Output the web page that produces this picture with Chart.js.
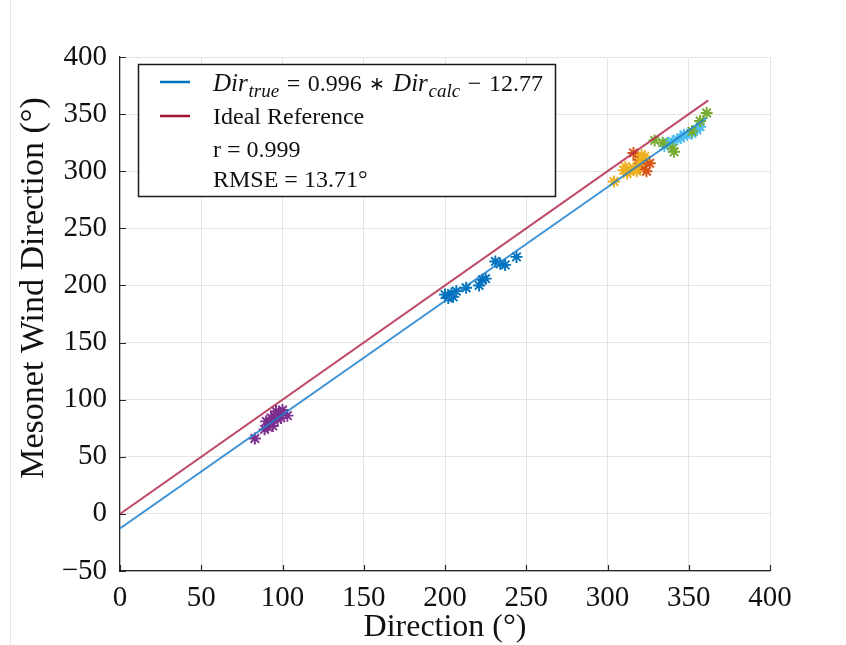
<!DOCTYPE html>
<html>
<head>
<meta charset="utf-8">
<script src="https://cdn.jsdelivr.net/npm/chart.js@4.4.1/dist/chart.umd.min.js"></script>
<style>
  html, body { margin: 0; padding: 0; background: #ffffff; }
  #wrap { width: 846px; height: 645px; position: relative; }
</style>
</head>
<body>
<div id="wrap"><canvas id="c" width="846" height="645"></canvas></div>
<script>
// Calculated vs. Mesonet wind direction, grouped by case
const purpleX = [83, 89, 90, 91, 92, 93, 94, 95, 96, 97, 98, 99, 100, 103];
const purpleY = [66, 74, 81, 76, 80, 84, 77, 86, 90, 83, 88, 84, 91, 86];

const blueX = [200, 202, 204, 205, 207, 213, 221, 223, 225, 231, 234, 237, 244];
const blueY = [192, 189, 193, 190, 195, 198, 200, 205, 206, 221, 219, 218, 225];

const yellowX = [304, 310, 311, 312, 314, 316, 318, 320, 321, 323];
const yellowY = [291, 301, 304, 298, 300, 303, 300, 308, 314, 313];

const orangeX = [316, 319, 320, 322, 324, 326];
const orangeY = [316, 310, 303, 305, 300, 307];

const greenX = [329, 334, 340, 341, 352, 357, 361];
const greenY = [327, 325, 320, 317, 335, 344, 351];

const cyanX = [335, 337, 340, 343, 345, 347, 349, 352, 355, 357];
const cyanY = [322, 325, 326, 328, 329, 332, 332, 333, 336, 339];

// Regression and ideal reference lines
const fitSlope = 0.996;
const fitIntercept = -12.77;
const lineXRange = [0, 361];
const idealRange = [0, 362];

// Axis ticks
const xTicks = [0, 50, 100, 150, 200, 250, 300, 350, 400];
const yTicks = [-50, 0, 50, 100, 150, 200, 250, 300, 350, 400];

// Legend text
const legendFit = { slope: '0.996', intercept: '12.77' };
const legendIdeal = 'Ideal Reference';
const legendR = 'r = 0.999';
const legendRmse = 'RMSE = 13.71°';

const SERIF = '"Liberation Serif", "Times New Roman", serif';

const pts = (xs, ys) => xs.map((x, i) => ({ x: x, y: ys[i] }));

function scatterSet(xs, ys, color) {
  return {
    type: 'scatter',
    data: pts(xs, ys),
    pointStyle: 'star',
    pointRadius: 6,
    pointBorderWidth: 1.9,
    borderColor: color,
    backgroundColor: color,
    order: 2
  };
}

const fitLine = lineXRange.map(x => ({ x: x, y: fitSlope * x + fitIntercept }));
const idealLine = idealRange.map(x => ({ x: x, y: x }));

// Inward tick marks, figure edge line, rotated y label and boxed legend
const decorations = {
  id: 'decorations',
  beforeDraw(chart) {
    const ctx = chart.ctx;
    ctx.save();
    ctx.fillStyle = '#ffffff';
    ctx.fillRect(0, 0, chart.width, chart.height);
    ctx.strokeStyle = '#e6e6e6';
    ctx.lineWidth = 1;
    ctx.beginPath();
    ctx.moveTo(10.5, 0);
    ctx.lineTo(10.5, chart.height);
    ctx.stroke();
    ctx.restore();
  },
  afterDraw(chart) {
    const ctx = chart.ctx;
    const xs = chart.scales.x, ys = chart.scales.y;
    const area = chart.chartArea;
    ctx.save();
    ctx.strokeStyle = '#262626';
    ctx.lineWidth = 1.2;
    ctx.beginPath();
    xTicks.forEach(v => {
      const px = Math.round(xs.getPixelForValue(v)) + 0.5;
      ctx.moveTo(px, area.bottom);
      ctx.lineTo(px, area.bottom - 6);
    });
    yTicks.forEach(v => {
      const py = Math.round(ys.getPixelForValue(v)) + 0.5;
      ctx.moveTo(area.left, py);
      ctx.lineTo(area.left + 6, py);
    });
    ctx.stroke();

    // y-axis title
    ctx.fillStyle = '#111111';
    ctx.font = '34px ' + SERIF;
    ctx.textAlign = 'center';
    ctx.textBaseline = 'middle';
    ctx.translate(34, 288);
    ctx.rotate(-Math.PI / 2);
    ctx.fillText('Mesonet Wind Direction (°)', 0, 0);
    ctx.restore();

    // Legend box
    ctx.save();
    const bx = 138.5, by = 64.5, bw = 417, bh = 132;
    ctx.fillStyle = '#ffffff';
    ctx.fillRect(bx, by, bw, bh);
    ctx.strokeStyle = '#1a1a1a';
    ctx.lineWidth = 1.5;
    ctx.strokeRect(bx, by, bw, bh);

    ctx.lineWidth = 2.5;
    ctx.strokeStyle = '#0072BD';
    ctx.beginPath(); ctx.moveTo(160, 82); ctx.lineTo(190, 82); ctx.stroke();
    ctx.strokeStyle = '#A2142F';
    ctx.beginPath(); ctx.moveTo(160, 116); ctx.lineTo(190, 116); ctx.stroke();

    ctx.fillStyle = '#111111';
    ctx.textAlign = 'left';
    ctx.textBaseline = 'alphabetic';
    const big = '24px ' + SERIF;
    const bigIt = 'italic 25px ' + SERIF;
    const subIt = 'italic 19px ' + SERIF;
    const star = '19px ' + SERIF;
    const base = 91;
    // equation pieces: font, text, baseline shift, gap before
    const segs = [
      [bigIt, 'Dir', 0, 0], [subIt, 'true', 6, 0.1], [big, '=', 0, 1],
      [big, legendFit.slope, 0, 1], [star, '∗', -1, 1],
      [bigIt, 'Dir', 0, 1], [subIt, 'calc', 6, 0.1], [big, '−', 0, 1],
      [big, legendFit.intercept, 0, 1]
    ];
    const startX = 213, endX = 543;
    let textW = 0, gapUnits = 0;
    segs.forEach(s => { ctx.font = s[0]; textW += ctx.measureText(s[1]).width; gapUnits += s[3]; });
    const gap = (endX - startX - textW) / gapUnits;
    let x = startX;
    segs.forEach(s => {
      ctx.font = s[0];
      x += s[3] * gap;
      ctx.fillText(s[1], x, base + s[2]);
      x += ctx.measureText(s[1]).width;
    });
    ctx.font = big;
    ctx.fillText(legendIdeal, 213, 124);
    ctx.fillText(legendR, 213, 157);
    ctx.fillText(legendRmse, 213, 187);
    ctx.restore();
  }
};

new Chart(document.getElementById('c'), {
  data: {
    datasets: [
      {
        type: 'line',
        data: fitLine,
        borderColor: 'rgba(30,128,205,0.85)',
        borderWidth: 2,
        pointRadius: 0,
        fill: false,
        order: 0
      },
      {
        type: 'line',
        data: idealLine,
        borderColor: 'rgba(180,45,75,0.85)',
        borderWidth: 2,
        pointRadius: 0,
        fill: false,
        order: 1
      },
      scatterSet(purpleX, purpleY, '#7E2F8E'),
      scatterSet(blueX, blueY, '#0072BD'),
      scatterSet(yellowX, yellowY, '#EDB120'),
      scatterSet(orangeX, orangeY, '#D95319'),
      scatterSet(greenX, greenY, '#77AC30'),
      scatterSet(cyanX, cyanY, '#4DBEEE')
    ]
  },
  options: {
    responsive: false,
    animation: false,
    layout: { padding: { top: 57, right: 76, left: 0, bottom: 0 } },
    plugins: { legend: { display: false }, tooltip: { enabled: false } },
    scales: {
      x: {
        type: 'linear',
        min: 0, max: 400,
        afterBuildTicks: s => { s.ticks = xTicks.map(v => ({ value: v })); },
        afterFit: s => { s.height = 74; },
        grid: { color: '#e3e3e3', lineWidth: 1, drawTicks: false },
        border: { display: true, color: '#262626', width: 1.2 },
        ticks: { color: '#111111', font: { family: SERIF, size: 29 }, padding: 10, maxRotation: 0 },
        title: { display: true, text: 'Direction (°)', color: '#111111', font: { family: SERIF, size: 32, lineHeight: 1 }, padding: { top: 0, bottom: 1 } }
      },
      y: {
        type: 'linear',
        min: -50, max: 400,
        afterBuildTicks: s => { s.ticks = yTicks.map(v => ({ value: v })); },
        afterFit: s => { s.width = 120; },
        grid: { color: '#e3e3e3', lineWidth: 1, drawTicks: false },
        border: { display: true, color: '#262626', width: 1.2 },
        ticks: {
          color: '#111111', font: { family: SERIF, size: 29 }, padding: 13,
          callback: v => (v < 0 ? '−' + Math.abs(v) : String(v))
        }
      }
    }
  },
  plugins: [decorations]
});
</script>
</body>
</html>
